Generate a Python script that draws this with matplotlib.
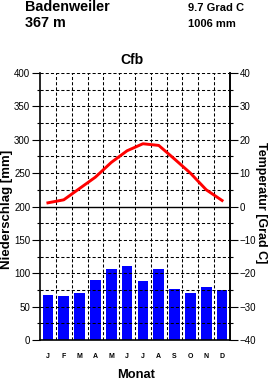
import matplotlib
matplotlib.use("Agg")
import matplotlib.pyplot as plt
import numpy as np

# Klimadiagramm Badenweiler
station = "Badenweiler"
hoehe = "367 m"
t_mittel = "9.7 Grad C"
n_summe = "1006 mm"
klima = "Cfb"
monate = ["J", "F", "M", "A", "M", "J", "J", "A", "S", "O", "N", "D"]
niederschlag = [68, 66, 71, 90, 106, 111, 88, 106, 76, 70, 79, 75]
temperatur = [1.1, 2.0, 5.4, 8.8, 13.2, 16.7, 18.8, 18.3, 14.2, 10.0, 5.0, 1.8]

plt.rcParams['font.family'] = ['Liberation Sans', 'DejaVu Sans']

W, H = 268, 382
fig = plt.figure(figsize=(W / 100, H / 100), dpi=100)
ax = fig.add_axes([40 / W, 1 - 340 / H, 190 / W, 267 / H])

x = np.arange(12)
ax.bar(x, niederschlag, width=0.68, color="#0000ff", zorder=2)

# Temperatur auf die Niederschlagsskala umgerechnet (0 Grad = 200 mm, 1 Grad = 5 mm)
ax.plot(x, 200 + 5 * np.array(temperatur), color="#ff0000", lw=2.1, zorder=4)

ax.set_xlim(-0.5, 11.5)
ax.set_ylim(0, 400)

# Gitter
gs = dict(color="black", ls=(0, (3, 2)), lw=0.75, zorder=3)
for k in np.arange(0.5, 11.5, 1):
    ax.axvline(k, **gs)
for v in np.arange(25, 401, 25):
    if v != 200:
        ax.axhline(v, **gs)
ax.axhline(200, color="black", lw=1.0, zorder=3)

for s in ["left", "bottom", "right"]:
    ax.spines[s].set_linewidth(1.2)
ax.spines["top"].set_visible(False)

ax.set_xticks(x)
ax.set_xticklabels(monate, fontsize=5, fontweight="bold")
ax.tick_params(axis="x", length=0, pad=9)
ax.set_yticks(np.arange(0, 401, 50))
ax.set_yticks(np.arange(25, 400, 50), minor=True)
ax.tick_params(axis="y", which="major", labelsize=7, length=6, width=0.8, pad=1)
ax.tick_params(axis="y", which="minor", length=2.5, width=0.8)

ax2 = ax.twinx()
ax2.set_ylim(-40, 40)
ax2.set_yticks(np.arange(-40, 41, 10))
ax2.set_yticks(np.arange(-35, 40, 10), minor=True)
ax2.tick_params(axis="y", which="major", labelsize=7, length=6, width=0.8, pad=1)
ax2.tick_params(axis="y", which="minor", length=2.5, width=0.8)
for s in ["left", "bottom", "top"]:
    ax2.spines[s].set_visible(False)
ax2.spines["right"].set_linewidth(1.2)

fig.text(25 / W, 1 - 7 / H, station, fontsize=10.4, fontweight="bold", va="center")
fig.text(25 / W, 1 - 23 / H, hoehe, fontsize=10.4, fontweight="bold", va="center")
fig.text(188 / W, 1 - 8 / H, t_mittel, fontsize=8, fontweight="bold", va="center")
fig.text(188 / W, 1 - 24 / H, n_summe, fontsize=8, fontweight="bold", va="center")
fig.text(132 / W, 1 - 60 / H, klima, fontsize=10, fontweight="bold", ha="center", va="center")
fig.text(136 / W, 1 - 375 / H, "Monat", fontsize=9.3, fontweight="bold", ha="center", va="center")
fig.text(7 / W, 1 - 209 / H, "Niederschlag [mm]", fontsize=9.5, fontweight="bold",
         rotation=90, ha="center", va="center")
fig.text(261 / W, 1 - 203 / H, "Temperatur [Grad C]", fontsize=9, fontweight="bold",
         rotation=270, ha="center", va="center")

fig.savefig("out.png", dpi=100)
